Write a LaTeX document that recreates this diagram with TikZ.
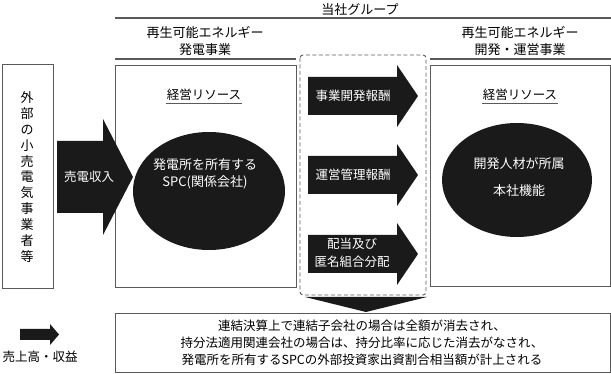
\documentclass[tikz,border=0pt]{standalone}
\usepackage{fontspec}
\setmainfont{Noto Sans CJK JP}
\usepackage{tikz}
\usetikzlibrary{
	positioning,
	shapes.geometric,
	calc
}
\definecolor{FrameGray}{RGB}{90,90,90}
\definecolor{BlockBlack}{RGB}{26,26,26}

\tikzset{
	frame/.style={draw=FrameGray, line width=.8pt},
	rule/.style={FrameGray, line width=1.2pt},
	txt/.style={inner sep=1pt, font=\fontsize{12.5}{16}\selectfont, align=center},
	wtxt/.style={txt, text=white},
	blob/.style={ellipse, fill=BlockBlack, inner sep=0pt}
}

% block arrow: start x, head x, tip x, centre y, half shaft, half head
\newcommand{\blockarrow}[6]{%
	\fill[BlockBlack] (#1,#4-#5) -- (#2,#4-#5) -- (#2,#4-#6) -- (#3,#4)
	-- (#2,#4+#6) -- (#2,#4+#5) -- (#1,#4+#5) -- cycle;}

\begin{document}
\begin{tikzpicture}[x=1pt,y=-1pt]
				
				\useasboundingbox (0,0) rectangle (611,374);
				
				% group heading
				\node[txt, font=\fontsize{13}{16}\selectfont] (group) at (360,10) {当社グループ};
				\draw[rule] (115,18) -- (611,18);
				
				\node[txt, font=\fontsize{13}{16.5}\selectfont] (genhead) at (205,41) {再生可能エネルギー\\発電事業};
				\draw[rule] (115,59) -- (296,59);
				
				\node[txt, font=\fontsize{13}{16.5}\selectfont] (devhead) at (520,41) {再生可能エネルギー\\開発・運営事業};
				\draw[rule] (430,59) -- (611,59);
				
				% boxes
				\draw[frame] (2,64) rectangle (53,288);
				\node[txt, font=\fontsize{13}{15.9}\selectfont] (retail) at (27,177)
				{外\\部\\の\\小\\売\\電\\気\\事\\業\\者\\等};
				
				\draw[frame] (115,65) rectangle (296,287);
				\draw[frame] (430,65) rectangle (610,286);
				\draw[FrameGray, line width=.9pt, dash pattern=on 4pt off 2.5pt, rounded corners=3pt] (300,55) rectangle (426,295);
				
				% resources
				\node[txt] (resL) at (204,95) {経営リソース};
				\draw[FrameGray, line width=.6pt] ($(resL.south west)+(0,1)$) -- ($(resL.south east)+(0,1)$);
				\node[txt] (resR) at (520,95) {経営リソース};
				\draw[FrameGray, line width=.6pt] ($(resR.south west)+(0,1)$) -- ($(resR.south east)+(0,1)$);
				
				\node[blob, minimum width=152pt, minimum height=118pt] (spc) at (209,191) {};
				\node[wtxt, font=\fontsize{13}{17}\selectfont] (spctext) at (205,174) {発電所を所有する\\SPC(関係会社)};
				
				\node[blob, minimum width=150pt, minimum height=114pt] (hq) at (517,180) {};
				\node[wtxt, font=\fontsize{13}{27}\selectfont] (hqtext) at (519,177) {開発人材が所属\\本社機能};
				
				% flows
				\blockarrow{57}{103}{133}{177}{36}{58}
				\node[wtxt] (sales) at (89,177) {売電収入};
				
				\blockarrow{308}{397}{418}{96}{19}{31}
				\node[wtxt] (devfee) at (353,96) {事業開発報酬};
				
				\blockarrow{308}{397}{418}{175}{19}{31}
				\node[wtxt] (opfee) at (353,175) {運営管理報酬};
				
				\blockarrow{308}{397}{418}{254}{19}{31}
				\node[wtxt, font=\fontsize{12.5}{18}\selectfont] (dividend) at (352,253) {配当及び\\匿名組合分配};
				
				\fill[BlockBlack] (305,297) -- (427,297) -- (366,312) -- cycle;
				
				% note
				\draw[frame] (115,313) rectangle (610,372);
				\node[txt, font=\fontsize{12.5}{17}\selectfont] (note) at (362,343)
				{連結決算上で連結子会社の場合は全額が消去され、\\
					持分法適用関連会社の場合は、持分比率に応じた消去がなされ、\\
					発電所を所有するSPCの外部投資家出資割合相当額が計上される};
				
				% legend
				\blockarrow{20}{50}{59}{334.5}{5.5}{10.5}
				\node[txt] (legend) at (40,357) {売上高・収益};
				
			\end{tikzpicture}
\end{document}
